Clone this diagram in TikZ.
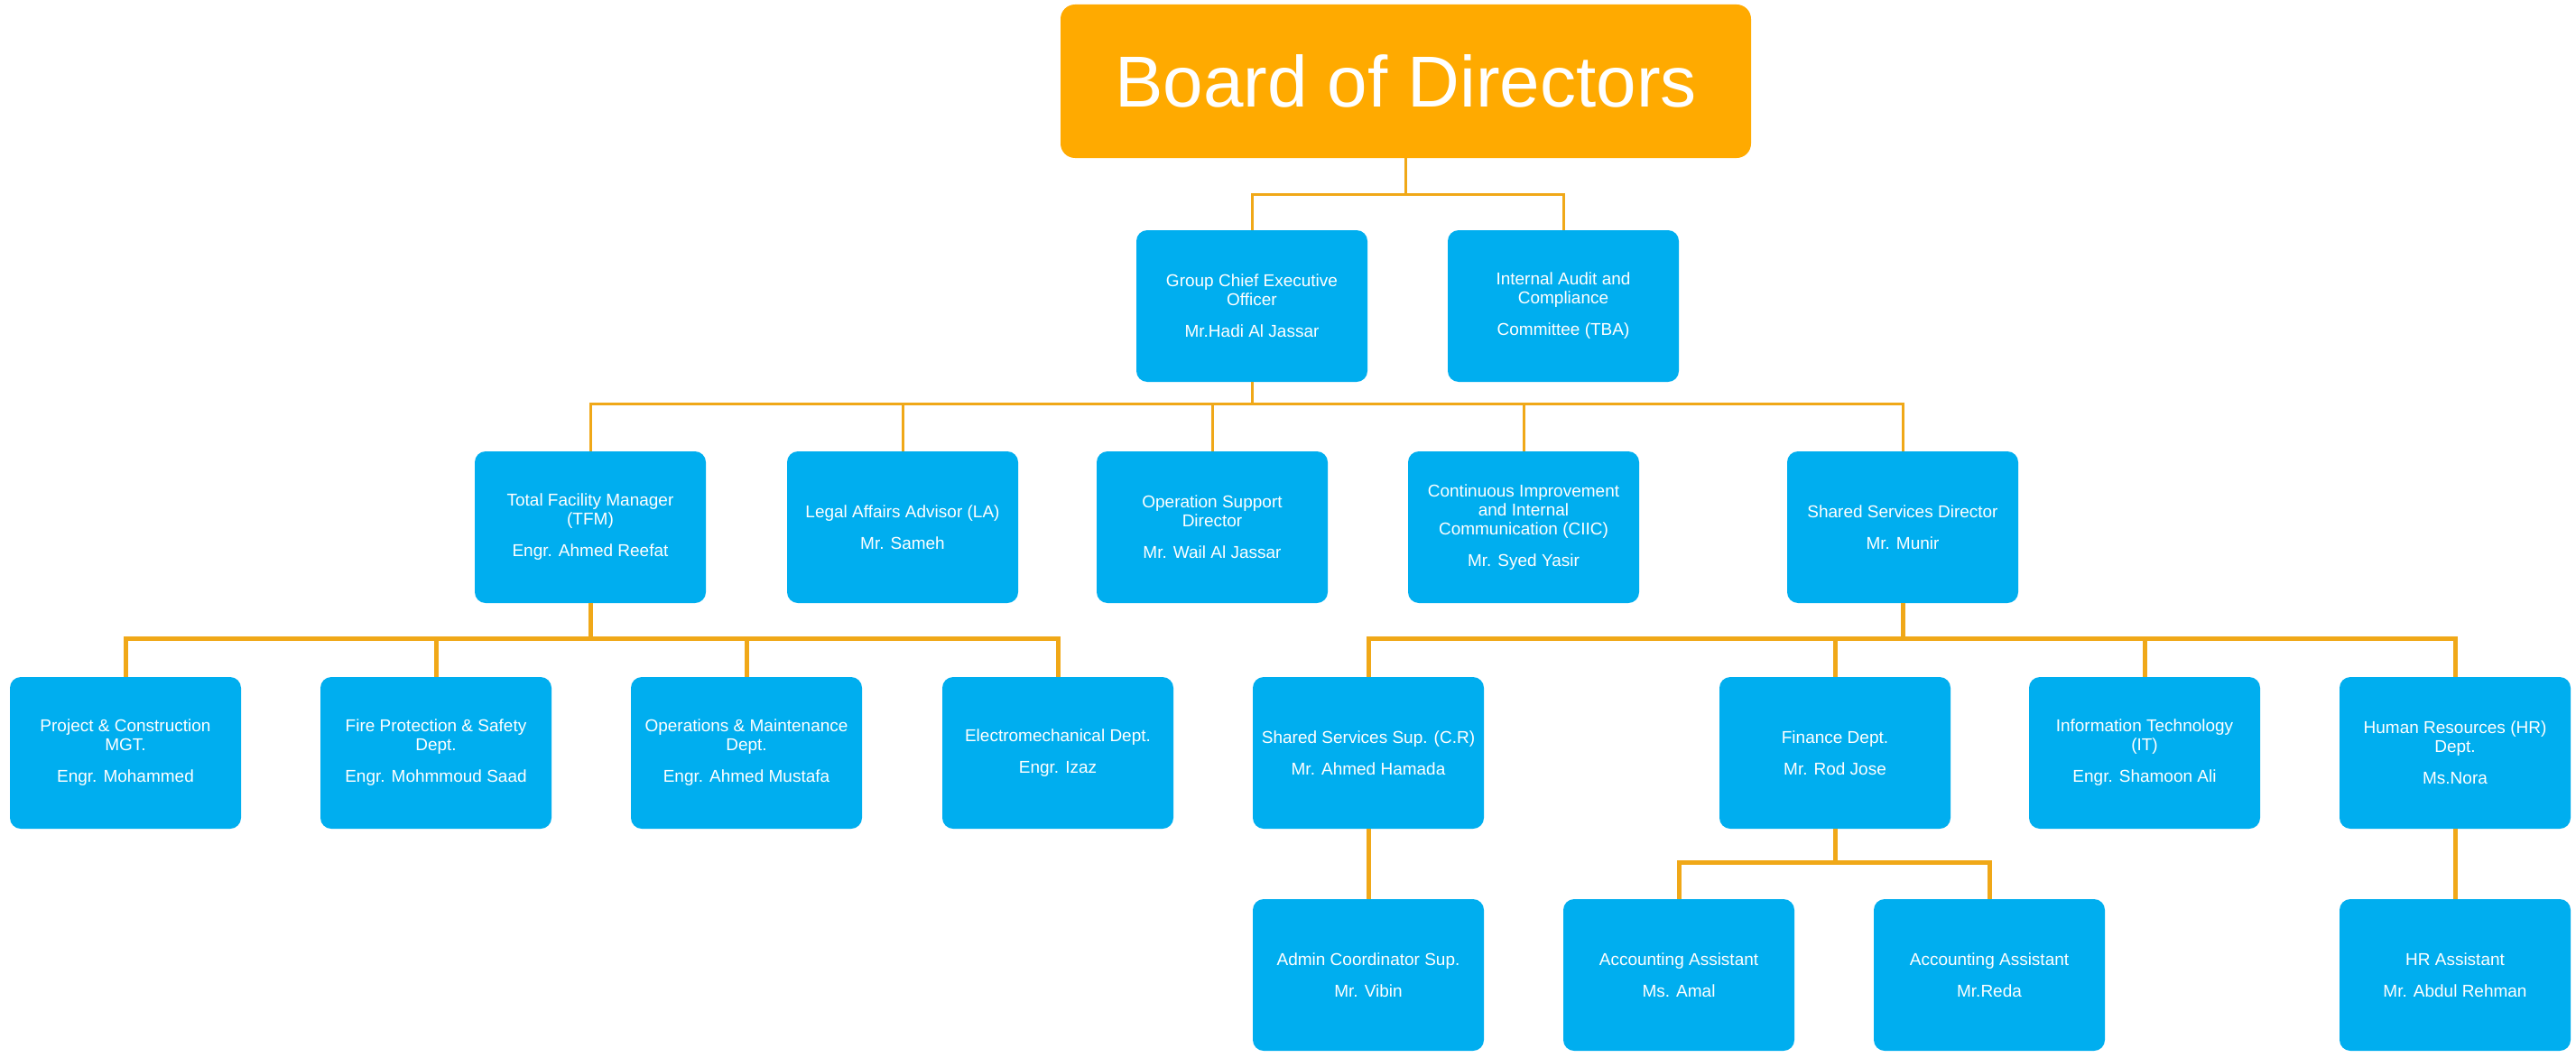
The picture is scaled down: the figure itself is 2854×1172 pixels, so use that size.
\documentclass[tikz,border=0pt]{standalone}
\usepackage{fontspec}
\setmainfont{Liberation Sans}
\definecolor{boxblue}{RGB}{0,174,239}
\definecolor{boardor}{RGB}{255,170,0}
\definecolor{lineor}{RGB}{240,168,24}
\begin{document}
\begin{tikzpicture}[x=1pt,y=-1pt,
  unit/.style={rectangle, rounded corners=12pt, fill=boxblue, text=white,
    minimum width=256pt, minimum height=168pt, align=center, inner sep=2pt,
    font=\fontsize{19}{21}\selectfont},
  board/.style={rectangle, rounded corners=16pt, fill=boardor, text=white,
    minimum width=765pt, minimum height=170pt, font=\fontsize{80}{90}\selectfont},
  conn/.style={draw=lineor, line width=3pt},
  connb/.style={draw=lineor, line width=5pt}]
\path[use as bounding box] (0,0) rectangle (2854,1172);
\fill[white] (0,0) rectangle (2854,1172);

% level 0
\node[board] (bod) at (1557.5,90) {Board of Directors};

% level 1
\node[unit] (ceo) at (1387,339) {Group Chief Executive\\Officer\\[14pt]Mr.Hadi Al Jassar};
\node[unit] (audit) at (1732,339) {Internal Audit and\\Compliance\\[14pt]Committee (TBA)};

% level 2
\node[unit] (tfm) at (654,584) {Total Facility Manager\\(TFM)\\[14pt]Engr. Ahmed Reefat};
\node[unit] (legal) at (1000,584) {Legal Affairs Advisor (LA)\\[14pt]Mr. Sameh};
\node[unit] (ops) at (1343,584) {Operation Support\\Director\\[14pt]Mr. Wail Al Jassar};
\node[unit] (ciic) at (1688,584) {Continuous Improvement\\and Internal\\Communication (CIIC)\\[14pt]Mr. Syed Yasir};
\node[unit] (ssd) at (2108,584) {Shared Services Director\\[14pt]Mr. Munir};

% level 3
\node[unit] (pcm) at (139,834) {Project \& Construction\\MGT.\\[14pt]Engr. Mohammed};
\node[unit] (fire) at (483,834) {Fire Protection \& Safety\\Dept.\\[14pt]Engr. Mohmmoud Saad};
\node[unit] (om) at (827,834) {Operations \& Maintenance\\Dept.\\[14pt]Engr. Ahmed Mustafa};
\node[unit] (elec) at (1172,834) {Electromechanical Dept.\\[14pt]Engr. Izaz};
\node[unit] (sss) at (1516,834) {Shared Services Sup. (C.R)\\[14pt]Mr. Ahmed Hamada};
\node[unit] (fin) at (2033,834) {Finance Dept.\\[14pt]Mr. Rod Jose};
\node[unit] (it) at (2376,834) {Information Technology\\(IT)\\[14pt]Engr. Shamoon Ali};
\node[unit] (hr) at (2720,834) {Human Resources (HR)\\Dept.\\[14pt]Ms.Nora};

% level 4
\node[unit] (adm) at (1516,1080) {Admin Coordinator Sup.\\[14pt]Mr. Vibin};
\node[unit] (acc1) at (1860,1080) {Accounting Assistant\\[14pt]Ms. Amal};
\node[unit] (acc2) at (2204,1080) {Accounting Assistant\\[14pt]Mr.Reda};
\node[unit] (hra) at (2720,1080) {HR Assistant\\[14pt]Mr. Abdul Rehman};

% connectors
\draw[conn] (bod.south) -- ++(0,40) coordinate (j0);
\draw[conn] (j0) -| (ceo.north);
\draw[conn] (j0) -| (audit.north);

\draw[conn] (ceo.south) -- ++(0,24) coordinate (j1);
\foreach \n in {tfm,legal,ops,ciic,ssd} \draw[conn] (j1) -| (\n.north);

\draw[connb] (tfm.south) -- ++(0,39) coordinate (j2);
\foreach \n in {pcm,fire,om,elec} \draw[connb] (j2) -| (\n.north);

\draw[connb] (ssd.south) -- ++(0,39) coordinate (j3);
\foreach \n in {sss,fin,it,hr} \draw[connb] (j3) -| (\n.north);

\draw[connb] (sss.south) -- (adm.north);
\draw[connb] (fin.south) -- ++(0,37) coordinate (j4);
\draw[connb] (j4) -| (acc1.north);
\draw[connb] (j4) -| (acc2.north);
\draw[connb] (hr.south) -- (hra.north);
\end{tikzpicture}
\end{document}
